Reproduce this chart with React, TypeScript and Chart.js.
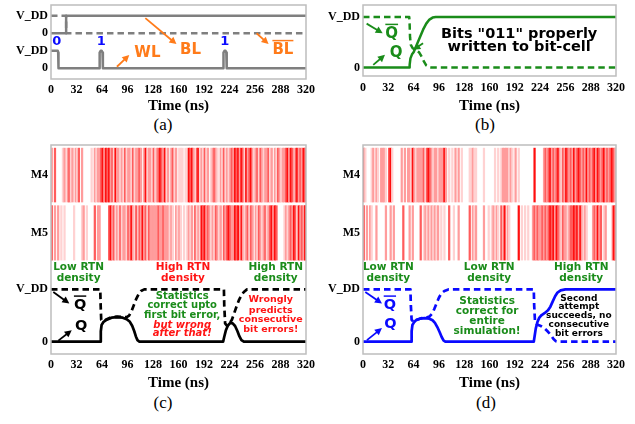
import React, { useEffect, useRef } from "react";
import { Chart, registerables } from "chart.js";
Chart.register(...registerables);

const SERIF = "'Liberation Serif', 'Times New Roman', serif";
const SANS = "'DejaVu Sans', sans-serif";

const TIME_MIN = 0;
const TIME_MAX = 320;
const TIME_STEP = 32;

type Pt = [number, number];

// ---------- (a) write signals (level 0 = "0", 1 = V_DD) ----------
const A_WL: Pt[] = [[0, 1], [8.5, 1], [9, 0.9], [9.3, 0.5], [9.5, 0], [60.6, 0], [60.8, 0.6], [61.3, 0.9], [62.3, 1], [63.6, 1], [64.6, 0.9], [65, 0.6], [65.2, 0], [216, 0], [216.2, 0.6], [216.7, 0.9], [217.7, 1], [219, 1], [220, 0.9], [220.4, 0.6], [220.6, 0], [320, 0]];
const A_BL: Pt[] = [[0, 0], [19, 0], [19, 1], [320, 1]];
const A_BLB: Pt[] = [[0, 1], [19, 1], [19, 0], [320, 0]];
const A_YTICKS = [0, 1, 2, 3];
const A_YLABELS = ["0", "V_DD", "0", "V_DD"];

// ---------- (b) nominal write ----------
const B_Q: Pt[] = [[0, 0], [58.5, 0], [59, 0.05], [60, 0.18], [62, 0.26], [64, 0.3], [68, 0.45], [72, 0.6], [76, 0.75], [80, 0.87], [84, 0.95], [88, 0.99], [92, 1], [320, 1]];
const B_QB: Pt[] = [[0, 1], [58.5, 1], [59, 0.85], [59.5, 0.6], [60.5, 0.45], [63, 0.38], [67, 0.34], [71, 0.3], [74, 0.22], [77, 0.12], [80, 0.04], [83, 0.01], [86, 0], [320, 0]];
const B_YTICKS = [0, 1];
const B_YLABELS = ["0", "V_DD"];

// ---------- (c) RTN, consecutive errors ----------
const C_Q: Pt[] = [[0, 0], [62, 0], [62.5, 0.2], [63.5, 0.32], [66, 0.38], [70, 0.42], [76, 0.46], [83, 0.47], [90, 0.46], [95, 0.43], [99, 0.38], [102, 0.3], [104.5, 0.2], [106.5, 0.1], [108.5, 0.03], [111, 0], [216, 0], [217.5, 0.1], [219.5, 0.22], [222, 0.31], [225, 0.36], [228, 0.35], [231, 0.3], [234, 0.2], [236.5, 0.1], [239, 0.03], [242, 0], [320, 0]];
const C_QB: Pt[] = [[0, 1], [61.8, 1], [62.3, 0.7], [63, 0.42], [66, 0.39], [70, 0.43], [76, 0.47], [83, 0.48], [90, 0.47], [95, 0.47], [98, 0.5], [101, 0.58], [104, 0.7], [107, 0.82], [110, 0.91], [113, 0.97], [117, 1], [217, 1], [217.4, 0.7], [218.5, 0.35], [221, 0.3], [224, 0.35], [227, 0.42], [230, 0.55], [233, 0.68], [236, 0.8], [239, 0.89], [242, 0.95], [246, 1], [320, 1]];
// RTN activity, one char per 2 ns bin, 0 = none .. 4 = strongest
const C_M4 = "2030" + "000" + "1202312021302" + "00000" + "102122" + "34243423142" + "212131221312" + "23202412" + "21312343241202312" + "0111011" + "4342034" + "12131201232102131212" + "3243424314234" + "212313212231202132122" + "3424303423243";
const C_M5 = "3020201010" + "000010000" + "1201" + "0000" + "302200" + "0003" + "423121312" + "213242130" + "32423132" + "2222322322" + "21210212" + "10101" + "21203121" + "43423" + "212132120" + "323432" + "243404" + "212313202" + "13212312" + "34243" + "0000" + "12123243142324";

// ---------- (d) RTN, recovered ----------
const D_Q: Pt[] = [[0, 0], [61, 0], [61.5, 0.2], [62.5, 0.32], [64.5, 0.37], [67, 0.41], [72, 0.44], [78, 0.45], [84, 0.44], [88, 0.41], [91, 0.36], [94, 0.28], [97, 0.18], [99.5, 0.09], [102, 0.02], [104.5, 0], [216, 0], [217, 0.1], [218.5, 0.25], [220.5, 0.37], [223, 0.46], [226, 0.51], [230, 0.55], [234, 0.6], [237, 0.67], [240, 0.77], [243, 0.87], [246, 0.94], [250, 0.98], [256, 1], [320, 1]];
const D_QB: Pt[] = [[0, 1], [60, 1], [60.5, 0.7], [61.5, 0.42], [64, 0.38], [68, 0.42], [74, 0.45], [80, 0.46], [84, 0.48], [87, 0.53], [90, 0.62], [93, 0.73], [96, 0.84], [99, 0.92], [103, 0.97], [108, 1], [216, 1], [216.5, 0.7], [217.5, 0.4], [220, 0.33], [225, 0.3], [230, 0.25], [234, 0.19], [238, 0.12], [241, 0.05], [244, 0.01], [247, 0], [320, 0]];
const D_M4 = "3100" + "012021022210341" + "00000" + "2020" + "2214212222313432122122242" + "01010" + "20201" + "0000" + "11211" + "0000" + "1000000" + "10101" + "2222" + "1210201" + "00000000" + "0400" + "000" + "2323423234213243232423432324232342432342323432";
const D_M5 = "30" + "20210020" + "00002" + "002020" + "0000" + "30" + "002020" + "000" + "301212121" + "212010" + "10030" + "010020" + "00000" + "302120" + "0002001" + "0120210" + "304021" + "0000" + "040" + "1010100" + "2323223232" + "3434243" + "21322123" + "343424" + "21" + "2100" + "0232423" + "0120" + "00143";

const CD_YTICKS = [0, 1, 2.08, 3.185];
const CD_YLABELS = ["0", "V_DD", "M5", "M4"];

// ---------- styles ----------
const GRAY = "#7f7f7f";
const GREEN = "#1a8c1a";
const RED = "#ff1414";
const BLUE = "#0a0aff";
const ORANGE = "#ff7b1a";
const RED_LEVELS = ["rgba(255,255,255,0)", "#ffd2d2", "#ff9c9c", "#ff5c5c", "#ff0f0f"];
const NBINS = 160;

function wave(pts: Pt[], color: string, dashed: boolean, width = 2.5, off = 0) {
  return {
    type: "line",
    data: pts.map(([t, v]) => ({ x: t, y: v + off })),
    borderColor: color,
    borderWidth: width,
    borderDash: dashed ? [6.5, 4] : [],
    pointRadius: 0,
    tension: 0,
    fill: false,
    borderJoinStyle: "round",
  };
}

function barcode(code: string, lo: number, hi: number) {
  const c = code.padEnd(NBINS, "0").slice(0, NBINS);
  const w = (TIME_MAX - TIME_MIN) / NBINS;
  const data: any[] = [];
  const colors: string[] = [];
  for (let i = 0; i < NBINS; i++) {
    data.push({ x: TIME_MIN + w * (i + 0.5), y: [lo, hi] });
    colors.push(RED_LEVELS[Number(c[i])] || RED_LEVELS[0]);
  }
  return {
    type: "bar",
    data,
    backgroundColor: colors,
    borderWidth: 0,
    barPercentage: 1,
    categoryPercentage: 1,
    grouped: false,
  };
}

type Note =
  | { kind: "text"; t: number; v: number; s: string; c: string; size: number; it?: boolean; over?: boolean }
  | { kind: "arrow"; t1: number; v1: number; t2: number; v2: number; c: string };

const txt = (t: number, v: number, s: string, c: string, size: number, o: { it?: boolean; over?: boolean } = {}): Note => ({ kind: "text", t, v, s, c, size, ...o });
const arr = (t1: number, v1: number, t2: number, v2: number, c: string): Note => ({ kind: "arrow", t1, v1, t2, v2, c });

function decoPlugin(notes: Note[]) {
  return {
    id: "deco",
    afterDatasetsDraw(chart: any) {
      const { ctx, chartArea: a, scales } = chart;
      const xs = scales.x;
      const ys = scales.y;
      ctx.save();
      ctx.strokeStyle = "#bdbdbd";
      ctx.lineWidth = 1.5;
      ctx.strokeRect(a.left, a.top, a.right - a.left, a.bottom - a.top);
      for (const n of notes) {
        if (n.kind === "arrow") {
          const x1 = xs.getPixelForValue(n.t1), y1 = ys.getPixelForValue(n.v1);
          const x2 = xs.getPixelForValue(n.t2), y2 = ys.getPixelForValue(n.v2);
          const ang = Math.atan2(y2 - y1, x2 - x1);
          const hl = 7, hw = 3.6;
          const cs = Math.cos(ang), sn = Math.sin(ang);
          ctx.strokeStyle = n.c;
          ctx.fillStyle = n.c;
          ctx.lineWidth = 1.8;
          ctx.setLineDash([]);
          ctx.beginPath();
          ctx.moveTo(x1, y1);
          ctx.lineTo(x2 - hl * 0.7 * cs, y2 - hl * 0.7 * sn);
          ctx.stroke();
          ctx.beginPath();
          ctx.moveTo(x2, y2);
          ctx.lineTo(x2 - hl * cs + hw * sn, y2 - hl * sn - hw * cs);
          ctx.lineTo(x2 - hl * cs - hw * sn, y2 - hl * sn + hw * cs);
          ctx.closePath();
          ctx.fill();
        } else {
          const px = xs.getPixelForValue(n.t), py = ys.getPixelForValue(n.v);
          ctx.font = `${n.it ? "italic " : ""}bold ${n.size}px ${SANS}`;
          ctx.fillStyle = n.c;
          ctx.textAlign = "center";
          ctx.textBaseline = "middle";
          ctx.fillText(n.s, px, py);
          if (n.over) {
            const w = ctx.measureText(n.s).width;
            const yb = py - n.size * 0.62;
            ctx.strokeStyle = n.c;
            ctx.lineWidth = Math.max(1.3, n.size * 0.1);
            ctx.beginPath();
            ctx.moveTo(px - w / 2, yb);
            ctx.lineTo(px + w / 2, yb);
            ctx.stroke();
          }
        }
      }
      ctx.restore();
    },
  };
}

function makeConfig(p: {
  yw: number; xh: number; padR: number; padT: number; ymin: number; ymax: number;
  yticks: number[]; ylabels: string[]; tickPad: number; datasets: any[]; notes: Note[];
}) {
  return {
    type: "line",
    data: { datasets: p.datasets },
    options: {
      animation: false,
      responsive: false,
      events: [],
      layout: { padding: { left: 0, right: p.padR, top: p.padT, bottom: 0 } },
      plugins: { legend: { display: false }, tooltip: { enabled: false } },
      scales: {
        x: {
          type: "linear",
          min: TIME_MIN,
          max: TIME_MAX,
          offset: false,
          grid: { display: false, drawTicks: false },
          border: { display: false },
          ticks: {
            stepSize: TIME_STEP,
            autoSkip: false,
            maxRotation: 0,
            padding: p.tickPad,
            color: "#000",
            font: { family: SERIF, weight: "bold", size: 12 },
          },
          title: {
            display: true,
            text: "Time (ns)",
            color: "#000",
            padding: { top: 0, bottom: 0 },
            font: { family: SERIF, weight: "bold", size: 15 },
          },
          afterFit: (s: any) => {
            s.height = p.xh;
            s.paddingLeft = 0;
            s.paddingRight = 0;
          },
        },
        y: {
          type: "linear",
          min: p.ymin,
          max: p.ymax,
          grid: { display: false, drawTicks: false },
          border: { display: false },
          afterBuildTicks: (s: any) => {
            s.ticks = p.yticks.map((v) => ({ value: v }));
          },
          ticks: {
            autoSkip: false,
            padding: 3,
            color: "#000",
            font: { family: SERIF, weight: "bold", size: 12 },
            callback: (_v: any, i: number) => p.ylabels[i],
          },
          afterFit: (s: any) => {
            s.width = p.yw;
            s.paddingTop = 0;
            s.paddingBottom = 0;
          },
        },
      },
    },
    plugins: [decoPlugin(p.notes)],
  };
}

const makeA = () =>
  makeConfig({
    yw: 51, xh: 36, padR: 12, padT: 5, ymin: -0.61, ymax: 3.61, tickPad: 4,
    yticks: A_YTICKS, ylabels: A_YLABELS,
    datasets: [wave(A_WL, GRAY, false), wave(A_BL, GRAY, false, 2.5, 2), wave(A_BLB, GRAY, true, 2.5, 2)],
    notes: [
      txt(121, 0.87, "WL", ORANGE, 15), arr(82.7, 0.09, 98.2, 0.76, ORANGE),
      txt(175, 1.05, "BL", ORANGE, 15), arr(118.4, 2.86, 157.4, 1.38, ORANGE),
      txt(291, 1.05, "BL", ORANGE, 15, { over: true }), arr(258, 2.0, 273, 1.38, ORANGE),
      txt(7.2, 1.52, "0", BLUE, 13), txt(63, 1.52, "1", BLUE, 13), txt(218, 1.52, "1", BLUE, 13),
    ],
  });

const makeB = () =>
  makeConfig({
    yw: 45, xh: 39, padR: 19, padT: 5, ymin: -0.17, ymax: 1.24, tickPad: 5,
    yticks: B_YTICKS, ylabels: B_YLABELS,
    datasets: [wave(B_Q, GREEN, false), wave(B_QB, GREEN, true)],
    notes: [
      txt(197.5, 0.65, 'Bits "011" properly', "#000", 14.5),
      txt(197.5, 0.4, "written to bit-cell", "#000", 14.5),
      txt(36.3, 0.67, "Q", GREEN, 15, { over: true }), arr(4.6, 0.87, 24.9, 0.68, GREEN),
      txt(41.8, 0.29, "Q", GREEN, 15), arr(13, 0.05, 27.8, 0.25, GREEN),
      arr(76, 0.48, 63.7, 0.35, GREEN),
    ],
  });

const makeC = () =>
  makeConfig({
    yw: 51, xh: 38, padR: 12, padT: 5, ymin: -0.235, ymax: 3.76, tickPad: 4,
    yticks: CD_YTICKS, ylabels: CD_YLABELS,
    datasets: [wave(C_Q, "#000", false, 2.7), wave(C_QB, "#000", true, 2.7), barcode(C_M4, 2.67, 3.7), barcode(C_M5, 1.56, 2.6)],
    notes: [
      txt(34.6, 1.42, "Low RTN", GREEN, 10.5), txt(34.6, 1.22, "density", GREEN, 10.5),
      txt(165.6, 1.42, "High RTN", RED, 10.5), txt(165.6, 1.22, "density", RED, 10.5),
      txt(282, 1.42, "High RTN", GREEN, 10.5), txt(282, 1.22, "density", GREEN, 10.5),
      txt(36.5, 0.7, "Q", "#000", 14.5, { over: true }), arr(2.9, 0.95, 23, 0.73, "#000"),
      txt(37.8, 0.3, "Q", "#000", 14.5), arr(9.2, 0.02, 26, 0.22, "#000"),
      txt(164.6, 0.87, "Statistics", GREEN, 10), txt(164.6, 0.69, "correct upto", GREEN, 10),
      txt(164.6, 0.51, "first bit error,", GREEN, 10),
      txt(164.6, 0.32, "but wrong", RED, 10, { it: true }), txt(164.6, 0.16, "after that!", RED, 10, { it: true }),
      txt(275.8, 0.8, "Wrongly", RED, 9.5), txt(275.8, 0.6, "predicts", RED, 9.5),
      txt(275.8, 0.43, "consecutive", RED, 9.5), txt(275.8, 0.24, "bit errors!", RED, 9.5),
    ],
  });

const makeD = () =>
  makeConfig({
    yw: 45, xh: 38, padR: 19, padT: 5, ymin: -0.235, ymax: 3.76, tickPad: 4,
    yticks: CD_YTICKS, ylabels: CD_YLABELS,
    datasets: [wave(D_Q, BLUE, false, 2.7), wave(D_QB, BLUE, true, 2.7), barcode(D_M4, 2.67, 3.7), barcode(D_M5, 1.56, 2.6)],
    notes: [
      txt(32, 1.42, "Low RTN", GREEN, 10.5), txt(32, 1.22, "density", GREEN, 10.5),
      txt(159.6, 1.42, "Low RTN", GREEN, 10.5), txt(159.6, 1.22, "density", GREEN, 10.5),
      txt(276, 1.42, "High RTN", GREEN, 10.5), txt(276, 1.22, "density", GREEN, 10.5),
      txt(34, 0.7, "Q", BLUE, 14.5, { over: true }), arr(2.9, 0.95, 24, 0.73, BLUE),
      txt(34.6, 0.33, "Q", BLUE, 14.5), arr(5, 0.03, 24, 0.26, BLUE),
      txt(157, 0.78, "Statistics", GREEN, 10.5), txt(157, 0.59, "correct for", GREEN, 10.5),
      txt(157, 0.4, "entire", GREEN, 10.5), txt(157, 0.2, "simulation!", GREEN, 10.5),
      txt(273, 0.83, "Second", "#000", 9), txt(273, 0.67, "attempt", "#000", 9),
      txt(273, 0.5, "succeeds, no", "#000", 9), txt(273, 0.33, "consecutive", "#000", 9),
      txt(273, 0.16, "bit errors", "#000", 9),
    ],
  });

function Panel({ left, top, w, h, make }: { left: number; top: number; w: number; h: number; make: () => any }) {
  const ref = useRef<HTMLCanvasElement>(null);
  useEffect(() => {
    const chart = new Chart(ref.current as HTMLCanvasElement, make());
    return () => chart.destroy();
  }, [make]);
  return (
    <div style={{ position: "absolute", left, top, width: w, height: h }}>
      <canvas ref={ref} width={w} height={h} style={{ display: "block", width: w, height: h }} />
    </div>
  );
}

function Caption({ x, y, text }: { x: number; y: number; text: string }) {
  return (
    <div
      style={{
        position: "absolute", left: x - 30, top: y - 10, width: 60, height: 20,
        textAlign: "center", font: `17px ${SERIF}`, lineHeight: "20px", color: "#000",
      }}
    >
      {text}
    </div>
  );
}

export default function App() {
  return (
    <div style={{ position: "fixed", left: 0, top: 0, width: 635, height: 424, background: "#fff", overflow: "hidden" }}>
      <Panel left={0} top={0} w={318} h={115} make={makeA} />
      <Panel left={318} top={0} w={317} h={115} make={makeB} />
      <Panel left={0} top={140} w={318} h={252} make={makeC} />
      <Panel left={318} top={140} w={317} h={252} make={makeD} />
      <Caption x={163} y={125} text="(a)" />
      <Caption x={485} y={125} text="(b)" />
      <Caption x={163} y={403} text="(c)" />
      <Caption x={486} y={403} text="(d)" />
    </div>
  );
}
